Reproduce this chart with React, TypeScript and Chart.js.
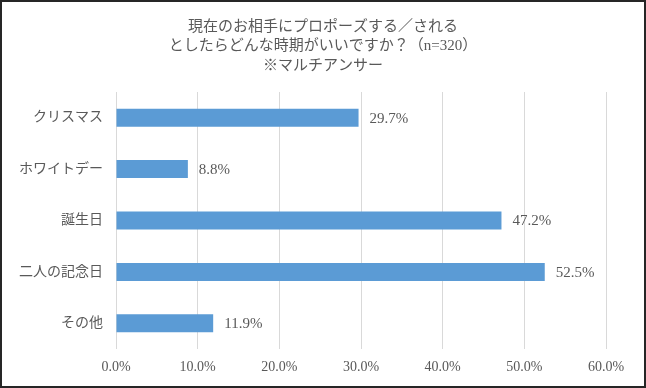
import React, { useEffect, useRef } from "react";
import { Chart, registerables } from "chart.js";

Chart.register(...registerables);

const titleLines = [
  "現在のお相手にプロポーズする／される",
  "としたらどんな時期がいいですか？（n=320）",
  "※マルチアンサー",
];
const categories = ["クリスマス", "ホワイトデー", "誕生日", "二人の記念日", "その他"];
const values = [29.7, 8.8, 47.2, 52.5, 11.9];
const xTicks = [0, 10, 20, 30, 40, 50, 60];

const FONT = "'Liberation Serif', 'Noto Sans CJK JP', serif";
const TEXT = "#595959";

const labelPlugin = {
  id: "barLabels",
  afterDatasetsDraw(chart: any) {
    const { ctx } = chart;
    const meta = chart.getDatasetMeta(0);
    ctx.save();
    ctx.font = `15px ${FONT}`;
    ctx.fillStyle = TEXT;
    ctx.textAlign = "left";
    ctx.textBaseline = "middle";
    meta.data.forEach((bar: any, i: number) => {
      ctx.fillText(values[i].toFixed(1) + "%", bar.x + 11, bar.y + 1);
    });
    ctx.restore();
  },
};

const titlePlugin = {
  id: "centeredTitle",
  afterDraw(chart: any) {
    const { ctx, width } = chart;
    ctx.save();
    ctx.font = `15px ${FONT}`;
    ctx.fillStyle = TEXT;
    ctx.textAlign = "center";
    ctx.textBaseline = "middle";
    titleLines.forEach((line, i) => {
      ctx.fillText(line, width / 2, 27 + i * 19.5);
    });
    ctx.restore();
  },
};

export default function App() {
  const ref = useRef<HTMLCanvasElement>(null);
  useEffect(() => {
    document.body.style.margin = "0";
    const chart = new Chart(ref.current!, {
      type: "bar",
      data: {
        labels: categories,
        datasets: [
          {
            data: values,
            backgroundColor: "#5B9BD5",
            borderWidth: 0,
            categoryPercentage: 1,
            barPercentage: 0.35,
          },
        ],
      },
      options: {
        indexAxis: "y",
        animation: false,
        responsive: false,
        layout: { padding: { top: 92, right: 40, bottom: 0, left: 0 } },
        plugins: {
          legend: { display: false },
          tooltip: { enabled: false },
          title: { display: false },
        },
        scales: {
          x: {
            min: 0,
            max: 60,
            afterBuildTicks: (axis: any) => {
              axis.ticks = xTicks.map((v) => ({ value: v }));
            },
            ticks: {
              color: TEXT,
              font: { family: FONT, size: 14 },
              padding: 10,
              callback: (v: any) => Number(v).toFixed(1) + "%",
            },
            grid: { color: "#D9D9D9", drawTicks: false },
            border: { display: false },
            afterFit: (s: any) => {
              s.height = 39;
            },
          },
          y: {
            ticks: {
              color: TEXT,
              font: { family: FONT, size: 14 },
              padding: 13,
            },
            grid: { display: false, drawTicks: false },
            border: { display: false },
            afterFit: (s: any) => {
              s.width = 116;
            },
          },
        },
      },
      plugins: [labelPlugin, titlePlugin],
    });
    return () => chart.destroy();
  }, []);
  return (
    <div style={{ position: "absolute", left: 0, top: 0, width: 646, height: 388, background: "#fff" }}>
      <canvas ref={ref} width={646} height={388} style={{ display: "block" }} />
      <div
        style={{
          position: "absolute",
          left: 0,
          top: 0,
          width: 646,
          height: 388,
          boxSizing: "border-box",
          border: "2px solid #262626",
          pointerEvents: "none",
        }}
      />
    </div>
  );
}
